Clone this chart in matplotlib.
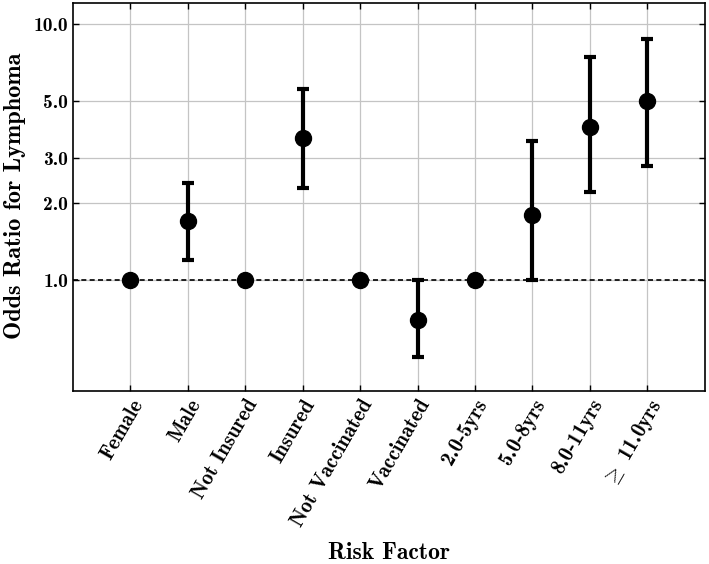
import matplotlib
matplotlib.use("Agg")
import matplotlib.pyplot as plt
import numpy as np

categories = ["Female", "Male", "Not Insured", "Insured", "Not Vaccinated",
              "Vaccinated", "2.0-5yrs", "5.0-8yrs", "8.0-11yrs", r"$\geq$ 11.0yrs"]
odds_ratio = [1.0, 1.70, 1.0, 3.58, 1.0, 0.70, 1.0, 1.79, 3.98, 4.99]
ci_lower = [1.0, 1.20, 1.0, 2.30, 1.0, 0.50, 1.0, 1.00, 2.20, 2.80]
ci_upper = [1.0, 2.40, 1.0, 5.57, 1.0, 1.00, 1.0, 3.51, 7.46, 8.77]
yticks = [1.0, 2.0, 3.0, 5.0, 10.0]
ytick_labels = ["1.0", "2.0", "3.0", "5.0", "10.0"]

plt.rcParams['font.family'] = ['cmb10', 'DejaVu Serif']
plt.rcParams['mathtext.fontset'] = 'cm'
plt.rcParams['axes.unicode_minus'] = False

fig = plt.figure(figsize=(7.09, 5.64), dpi=100)
ax = fig.add_axes([0.103, 0.307, 0.891, 0.688])

x = np.arange(len(categories))
or_arr = np.array(odds_ratio)
yerr = np.vstack([or_arr - np.array(ci_lower), np.array(ci_upper) - or_arr])

ax.axhline(1.0, color='black', linestyle=(0, (3, 2)), linewidth=1.2, zorder=2)
ax.errorbar(x, or_arr, yerr=yerr, fmt='o', color='black', markersize=11.5,
            elinewidth=3, capsize=4, capthick=3, zorder=3)

ax.set_yscale('log')
ax.set_ylim(0.37, 12.1)
ax.set_xlim(-1, len(categories))
ax.set_yticks(yticks)
ax.set_yticklabels(ytick_labels, fontsize=14)
ax.yaxis.set_minor_locator(matplotlib.ticker.NullLocator())
ax.set_xticks(x)
ax.set_xticklabels(categories, rotation=60, ha='right', rotation_mode='anchor',
                   fontsize=15)

ax.grid(True, color='#c4c4c4', linewidth=0.9)
ax.set_axisbelow(True)
ax.tick_params(direction='in', top=True, right=True, length=4, width=1)
for s in ax.spines.values():
    s.set_linewidth(1.2)

ax.set_ylabel("Odds Ratio for Lymphoma", fontsize=17.5)
ax.set_xlabel("Risk Factor", fontsize=17)
ax.yaxis.set_label_coords(-0.074, 0.502)
ax.xaxis.set_label_coords(0.5, -0.39)

fig.savefig("out.png", dpi=100)
